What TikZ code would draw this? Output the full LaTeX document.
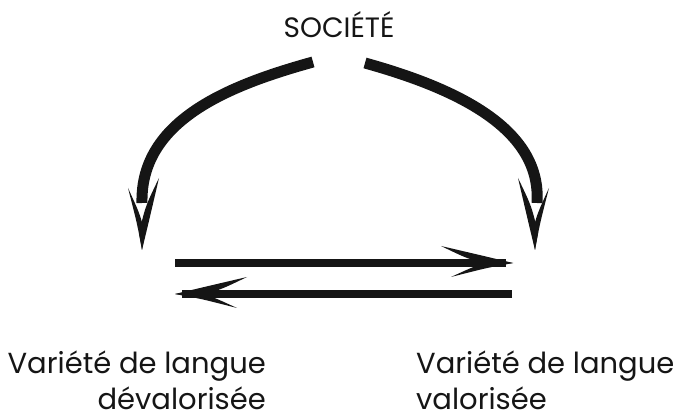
\documentclass[tikz,border=0pt]{standalone}
\usepackage{fontspec}
\setmainfont{Poppins}
\definecolor{ink}{HTML}{151515}
\tikzset{
  lbl/.style={inner sep=0pt, text=ink, font=\fontsize{29}{36}\selectfont},
  arcline/.style={line width=11pt, draw=ink},
  hline/.style={line width=7.5pt, draw=ink},
  barb/.style={fill=ink, draw=none},
}
\newcommand\myhead{%
  \fill[barb] (2,0) .. controls (-25,-6.5) .. (-70,-17) .. controls (-42,-3.5) .. (-15,3) -- cycle;
  \fill[barb] (2,0) .. controls (-25,5) .. (-60,14) .. controls (-35,2.5) .. (-15,-3) -- cycle;
}
\begin{document}
\begin{tikzpicture}[x=1pt,y=-1pt]
\useasboundingbox (0,0) rectangle (673,417);
\node[lbl, font=\fontsize{28}{32}\selectfont, anchor=base] (soc) at (339,38) {SOCIÉTÉ};
\node[lbl, align=right, anchor=north east] (dev) at (266,351) {Variété de langue\\dévalorisée};
\node[lbl, align=left, anchor=north west] (val) at (416,351) {Variété de langue\\valorisée};
% coordinates
\coordinate (aL1) at (313,62);
\coordinate (aL2) at (142,203);
\coordinate (tipL) at (142,248);
\coordinate (aR1) at (365,63);
\coordinate (aR2) at (537,203);
\coordinate (tipR) at (535,248);
\coordinate (h1s) at (175,263);
\coordinate (h1e) at (506,263);
\coordinate (h1t) at (511,263);
\coordinate (h2s) at (512,294);
\coordinate (h2e) at (182,294);
\coordinate (h2t) at (177,294);
% arcs
\draw[arcline] (aL1) .. controls (230,85) and (140,120) .. (aL2);
\draw[arcline] (aR1) .. controls (455,88) and (542,128) .. (aR2);
\begin{scope}[shift={(tipL)}, rotate=-90] \myhead \end{scope}
\begin{scope}[shift={(tipR)}, cm={0,-1,-1,0,(0,0)}] \myhead \end{scope}
% horizontal arrows
\draw[hline] (h1s) -- (h1e);
\begin{scope}[shift={(h1t)}] \myhead \end{scope}
\draw[hline] (h2s) -- (h2e);
\begin{scope}[shift={(h2t)}, xscale=-1] \myhead \end{scope}
\end{tikzpicture}
\end{document}
